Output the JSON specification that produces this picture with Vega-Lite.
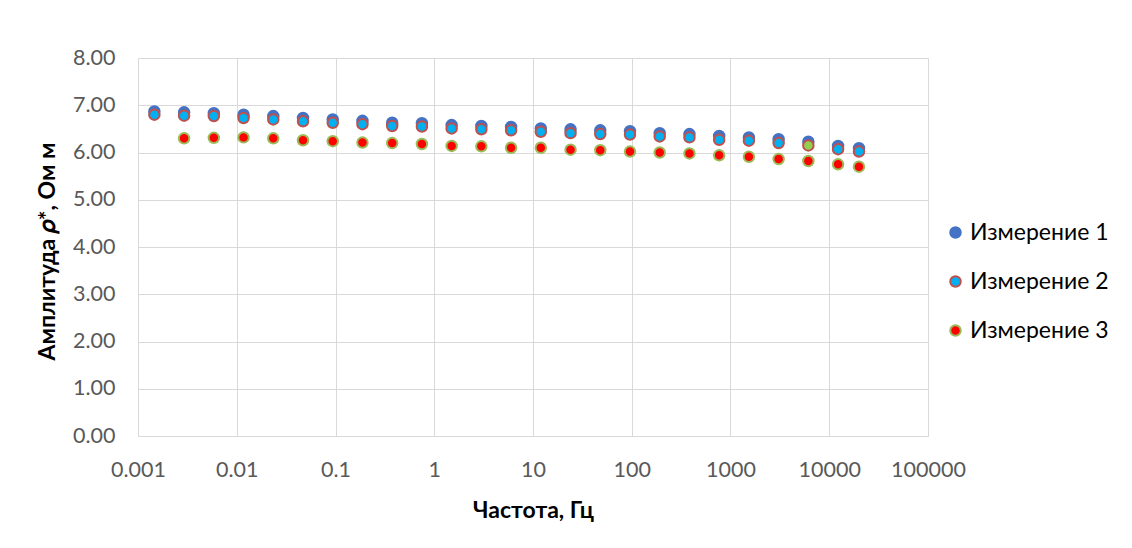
{
  "$schema": "https://vega.github.io/schema/vega-lite/v6.json",
  "autosize": {"type": "none"},
  "padding": {"left": 138, "top": 58, "right": 204, "bottom": 112},
  "width": 790,
  "height": 378,
  "background": "white",
  "config": {
    "view": {"stroke": null},
    "font": "Lato"
  },
  "data": {
    "values": [
      {"f": 0.001465, "v": 6.87, "s": "Измерение 1"},
      {"f": 0.00293, "v": 6.85, "s": "Измерение 1"},
      {"f": 0.00586, "v": 6.83, "s": "Измерение 1"},
      {"f": 0.01172, "v": 6.80, "s": "Измерение 1"},
      {"f": 0.02344, "v": 6.77, "s": "Измерение 1"},
      {"f": 0.04688, "v": 6.73, "s": "Измерение 1"},
      {"f": 0.09375, "v": 6.70, "s": "Измерение 1"},
      {"f": 0.1875, "v": 6.67, "s": "Измерение 1"},
      {"f": 0.375, "v": 6.63, "s": "Измерение 1"},
      {"f": 0.75, "v": 6.62, "s": "Измерение 1"},
      {"f": 1.5, "v": 6.58, "s": "Измерение 1"},
      {"f": 3, "v": 6.56, "s": "Измерение 1"},
      {"f": 6, "v": 6.54, "s": "Измерение 1"},
      {"f": 12, "v": 6.51, "s": "Измерение 1"},
      {"f": 24, "v": 6.49, "s": "Измерение 1"},
      {"f": 48, "v": 6.47, "s": "Измерение 1"},
      {"f": 96, "v": 6.45, "s": "Измерение 1"},
      {"f": 192, "v": 6.41, "s": "Измерение 1"},
      {"f": 384, "v": 6.39, "s": "Измерение 1"},
      {"f": 768, "v": 6.35, "s": "Измерение 1"},
      {"f": 1536, "v": 6.32, "s": "Измерение 1"},
      {"f": 3072, "v": 6.28, "s": "Измерение 1"},
      {"f": 6144, "v": 6.23, "s": "Измерение 1"},
      {"f": 12288, "v": 6.14, "s": "Измерение 1"},
      {"f": 20000, "v": 6.09, "s": "Измерение 1"},
      {"f": 0.001465, "v": 6.80, "s": "Измерение 2"},
      {"f": 0.00293, "v": 6.78, "s": "Измерение 2"},
      {"f": 0.00586, "v": 6.77, "s": "Измерение 2"},
      {"f": 0.01172, "v": 6.73, "s": "Измерение 2"},
      {"f": 0.02344, "v": 6.70, "s": "Измерение 2"},
      {"f": 0.04688, "v": 6.66, "s": "Измерение 2"},
      {"f": 0.09375, "v": 6.63, "s": "Измерение 2"},
      {"f": 0.1875, "v": 6.60, "s": "Измерение 2"},
      {"f": 0.375, "v": 6.56, "s": "Измерение 2"},
      {"f": 0.75, "v": 6.55, "s": "Измерение 2"},
      {"f": 1.5, "v": 6.51, "s": "Измерение 2"},
      {"f": 3, "v": 6.49, "s": "Измерение 2"},
      {"f": 6, "v": 6.47, "s": "Измерение 2"},
      {"f": 12, "v": 6.44, "s": "Измерение 2"},
      {"f": 24, "v": 6.41, "s": "Измерение 2"},
      {"f": 48, "v": 6.39, "s": "Измерение 2"},
      {"f": 96, "v": 6.38, "s": "Измерение 2"},
      {"f": 192, "v": 6.34, "s": "Измерение 2"},
      {"f": 384, "v": 6.32, "s": "Измерение 2"},
      {"f": 768, "v": 6.27, "s": "Измерение 2"},
      {"f": 1536, "v": 6.25, "s": "Измерение 2"},
      {"f": 3072, "v": 6.20, "s": "Измерение 2"},
      {"f": 6144, "v": 6.15, "s": "Измерение 2"},
      {"f": 12288, "v": 6.07, "s": "Измерение 2"},
      {"f": 20000, "v": 6.02, "s": "Измерение 2"},
      {"f": 0.00293, "v": 6.30, "s": "Измерение 3"},
      {"f": 0.00586, "v": 6.31, "s": "Измерение 3"},
      {"f": 0.01172, "v": 6.32, "s": "Измерение 3"},
      {"f": 0.02344, "v": 6.30, "s": "Измерение 3"},
      {"f": 0.04688, "v": 6.26, "s": "Измерение 3"},
      {"f": 0.09375, "v": 6.24, "s": "Измерение 3"},
      {"f": 0.1875, "v": 6.21, "s": "Измерение 3"},
      {"f": 0.375, "v": 6.20, "s": "Измерение 3"},
      {"f": 0.75, "v": 6.18, "s": "Измерение 3"},
      {"f": 1.5, "v": 6.14, "s": "Измерение 3"},
      {"f": 3, "v": 6.13, "s": "Измерение 3"},
      {"f": 6, "v": 6.10, "s": "Измерение 3"},
      {"f": 12, "v": 6.10, "s": "Измерение 3"},
      {"f": 24, "v": 6.06, "s": "Измерение 3"},
      {"f": 48, "v": 6.05, "s": "Измерение 3"},
      {"f": 96, "v": 6.02, "s": "Измерение 3"},
      {"f": 192, "v": 6.00, "s": "Измерение 3"},
      {"f": 384, "v": 5.98, "s": "Измерение 3"},
      {"f": 768, "v": 5.94, "s": "Измерение 3"},
      {"f": 1536, "v": 5.91, "s": "Измерение 3"},
      {"f": 3072, "v": 5.86, "s": "Измерение 3"},
      {"f": 6144, "v": 5.82, "s": "Измерение 3"},
      {"f": 12288, "v": 5.75, "s": "Измерение 3"},
      {"f": 20000, "v": 5.70, "s": "Измерение 3"}
    ]
  },
  "mark": {"type": "point", "shape": "circle", "filled": true, "opacity": 1, "size": 110, "strokeWidth": 2},
  "encoding": {
    "x": {
      "field": "f",
      "type": "quantitative",
      "scale": {"type": "log", "domain": [0.001, 100000], "nice": false},
      "axis": {
        "title": "Частота, Гц",
        "values": [0.001, 0.01, 0.1, 1, 10, 100, 1000, 10000, 100000],
        "format": "~g",
        "labelFont": "Lato",
        "labelFontSize": 21.5,
        "labelColor": "#595959",
        "labelPadding": 23,
        "labelFlush": false,
        "ticks": false,
        "tickSize": 0,
        "domain": true,
        "domainColor": "#D9D9D9",
        "domainWidth": 1,
        "grid": true,
        "gridColor": "#D9D9D9",
        "gridWidth": 1,
        "titleFont": "Lato",
        "titleFontSize": 23,
        "titleFontWeight": "bold",
        "titleColor": "#000000",
        "titleX": 395,
        "titleY": 74,
        "titleAlign": "center",
        "titleBaseline": "middle"
      }
    },
    "y": {
      "field": "v",
      "type": "quantitative",
      "scale": {"domain": [0, 8], "nice": false, "zero": true},
      "axis": {
        "title": "Амплитуда 𝜌*, Ом м",
        "values": [0, 1, 2, 3, 4, 5, 6, 7, 8],
        "format": ".2f",
        "labelFont": "Lato",
        "labelFontSize": 21.5,
        "labelColor": "#595959",
        "labelPadding": 23,
        "ticks": false,
        "tickSize": 0,
        "domain": false,
        "grid": true,
        "gridColor": "#D9D9D9",
        "gridWidth": 1,
        "titleFont": "Lato",
        "titleFontSize": 23,
        "titleFontWeight": "bold",
        "titleColor": "#000000",
        "titleAngle": -90,
        "titleX": -91,
        "titleY": 193,
        "titleAlign": "center",
        "titleBaseline": "middle"
      }
    },
    "fill": {
      "condition": {"test": "datum.s === 'Измерение 2' && datum.f === 6144", "value": "#92D050"},
      "field": "s",
      "type": "nominal",
      "scale": {"domain": ["Измерение 1", "Измерение 2", "Измерение 3"], "range": ["#4472C4", "#00B0F0", "#FF0000"]},
      "legend": {
        "title": null,
        "orient": "none",
        "legendX": 806,
        "legendY": 163,
        "padding": 0,
        "labelFont": "Lato",
        "labelFontSize": 23,
        "labelColor": "#000000",
        "labelOffset": 3,
        "rowPadding": 25,
        "symbolSize": 110,
        "symbolStrokeWidth": 2,
        "symbolType": "circle",
        "symbolOpacity": 1
      }
    },
    "stroke": {
      "field": "s",
      "type": "nominal",
      "scale": {"domain": ["Измерение 1", "Измерение 2", "Измерение 3"], "range": ["#4472C4", "#C0504D", "#9BBB59"]},
      "legend": {
        "title": null,
        "orient": "none",
        "legendX": 806,
        "legendY": 163,
        "padding": 0,
        "labelFont": "Lato",
        "labelFontSize": 23,
        "labelColor": "#000000",
        "labelOffset": 3,
        "rowPadding": 25,
        "symbolSize": 110,
        "symbolStrokeWidth": 2,
        "symbolType": "circle",
        "symbolOpacity": 1
      }
    },
    "order": {"field": "s", "sort": "ascending"}
  }
}
